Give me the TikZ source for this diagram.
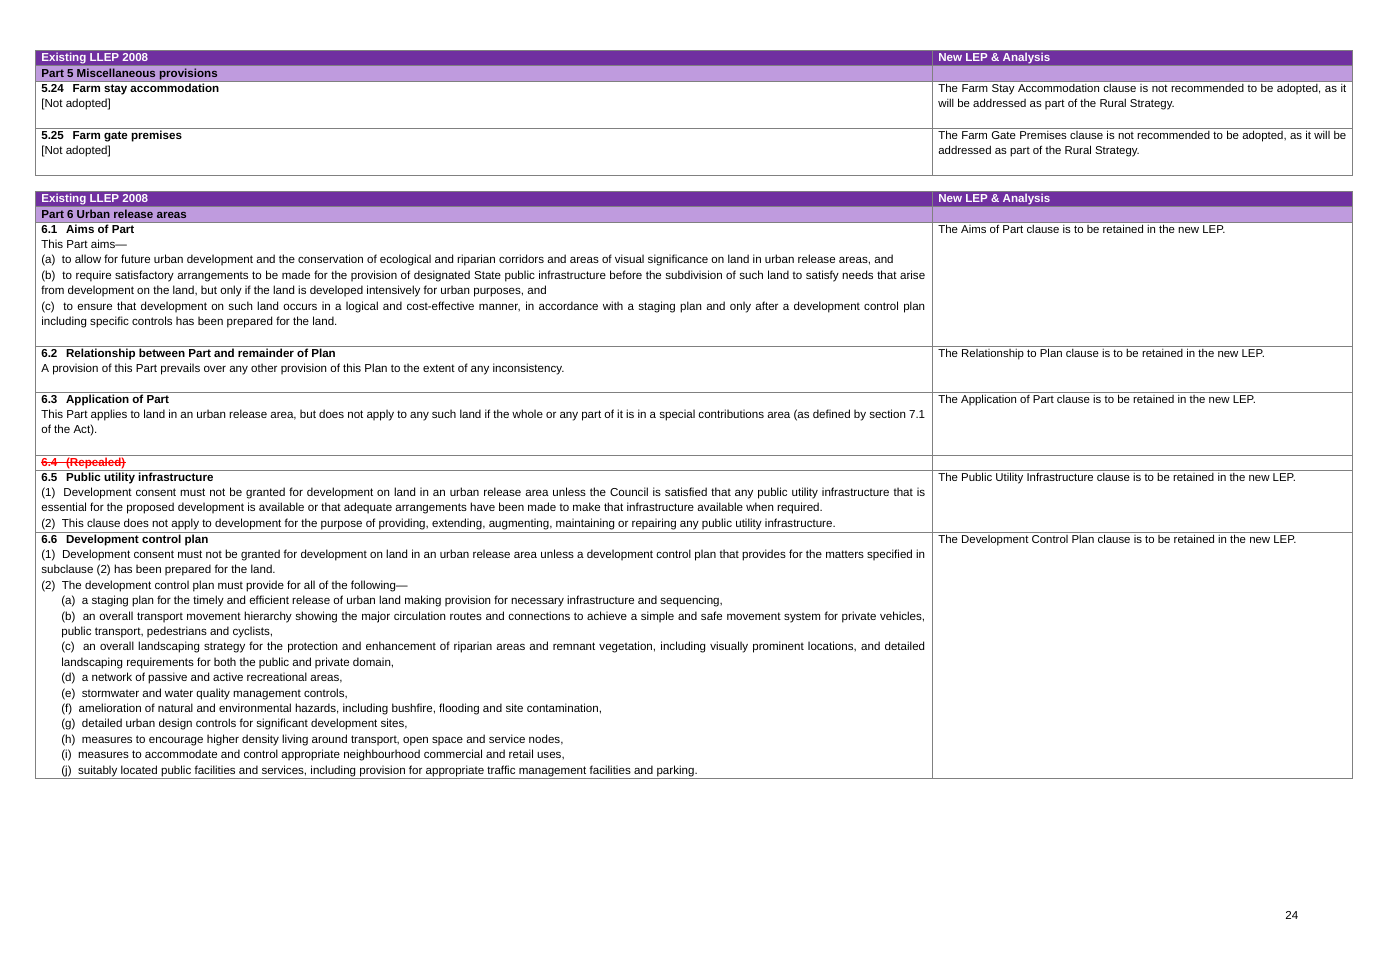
\documentclass[tikz,border=0pt]{standalone}
\usepackage{fontspec}
\setmainfont{Liberation Sans}
\definecolor{hdpurple}{HTML}{7030A0}
\definecolor{ltpurple}{HTML}{BF9BDE}
\definecolor{gridgray}{HTML}{808080}
\newcommand{\clause}[2]{\textbf{#1\hspace{0.75em}#2}}
\newcommand{\tablefont}{\fontsize{6.95}{9.24}\selectfont}
\newcommand{\notefont}{\fontsize{6.85}{9.24}\selectfont}
\begin{document}
\begin{tikzpicture}[x=0.6pt,y=-0.6pt,
  font=\tablefont,
  lcell/.style={anchor=base west,inner sep=0pt,text width=530.4pt,align=justify},
  rcell/.style={anchor=base west,inner sep=0pt,text width=244.8pt,align=justify,font=\notefont},
  hdtext/.style={anchor=base west,inner sep=0pt,text=white,font=\tablefont\bfseries},
  parttext/.style={anchor=base west,inner sep=0pt,font=\tablefont\bfseries},
  grid/.style={draw=gridgray,line width=0.6pt}]
\useasboundingbox (0,0) rectangle (1382,977);

% table 1: Part 5
\fill[hdpurple] (35,50) rectangle (1352,65);
\fill[ltpurple] (35,65) rectangle (1352,81);
\draw[grid] (35,50) rectangle (1352,175);
\draw[grid] (35,65) -- (1352,65) (35,81) -- (1352,81) (35,128) -- (1352,128);
\draw[grid] (932,50) -- (932,175);
\node[hdtext] (hdA) at (41,61) {Existing LLEP 2008};
\node[hdtext] (hdB) at (938,61) {New LEP \& Analysis};
\node[parttext] (part5) at (41,77) {Part 5 Miscellaneous provisions};
\node[lcell] (c524) at (41,92) {\clause{5.24}{Farm stay accommodation}\par [Not adopted]};
\node[rcell] (r524) at (938,92) {The Farm Stay Accommodation clause is not recommended to be adopted, as it\linebreak will be addressed as part of the Rural Strategy.};
\node[lcell] (c525) at (41,139) {\clause{5.25}{Farm gate premises}\par [Not adopted]};
\node[rcell] (r525) at (938,139) {The Farm Gate Premises clause is not recommended to be adopted, as it will be\linebreak addressed as part of the Rural Strategy.};

% table 2: Part 6
\fill[hdpurple] (35,191) rectangle (1352,206);
\fill[ltpurple] (35,206) rectangle (1352,222);
\draw[grid] (35,191) rectangle (1352,778);
\draw[grid] (35,206) -- (1352,206) (35,222) -- (1352,222) (35,346) -- (1352,346)
  (35,392) -- (1352,392) (35,455) -- (1352,455) (35,470) -- (1352,470) (35,532) -- (1352,532);
\draw[grid] (932,191) -- (932,778);
\node[hdtext] (hdC) at (41,202) {Existing LLEP 2008};
\node[hdtext] (hdD) at (938,202) {New LEP \& Analysis};
\node[parttext] (part6) at (41,218) {Part 6 Urban release areas};

\node[lcell] (c61) at (41,233) {\clause{6.1}{Aims of Part}\par
This Part aims\textemdash\par
(a)\ \ to allow for future urban development and the conservation of ecological and riparian corridors and areas of visual significance on land in urban release areas, and\par
(b)\ \ to require satisfactory arrangements to be made for the provision of designated State public infrastructure before the subdivision of such land to satisfy needs that arise\linebreak
from development on the land, but only if the land is developed intensively for urban purposes, and\par
(c)\ \ to ensure that development on such land occurs in a logical and cost-effective manner, in accordance with a staging plan and only after a development control plan\linebreak
including specific controls has been prepared for the land.};
\node[rcell] (r61) at (938,233) {The Aims of Part clause is to be retained in the new LEP.};

\node[lcell] (c62) at (41,357) {\clause{6.2}{Relationship between Part and remainder of Plan}\par
A provision of this Part prevails over any other provision of this Plan to the extent of any inconsistency.};
\node[rcell] (r62) at (938,357) {The Relationship to Plan clause is to be retained in the new LEP.};

\node[lcell] (c63) at (41,403) {\clause{6.3}{Application of Part}\par
This Part applies to land in an urban release area, but does not apply to any such land if the whole or any part of it is in a special contributions area (as defined by section 7.1\linebreak
of the Act).};
\node[rcell] (r63) at (938,403) {The Application of Part clause is to be retained in the new LEP.};

% repealed clause, struck through
\node[anchor=base west,inner sep=0pt,text=red,font=\tablefont\bfseries] (c64) at (41,466) {6.4\hspace{0.75em}(Repealed)};
\draw[red,line width=0.6pt] ([yshift=2.2pt]c64.base west) -- ([yshift=2.2pt]c64.base east);

\node[lcell] (c65) at (41,481) {\clause{6.5}{Public utility infrastructure}\par
(1)\ \ Development consent must not be granted for development on land in an urban release area unless the Council is satisfied that any public utility infrastructure that is\linebreak
essential for the proposed development is available or that adequate arrangements have been made to make that infrastructure available when required.\par
(2)\ \ This clause does not apply to development for the purpose of providing, extending, augmenting, maintaining or repairing any public utility infrastructure.};
\node[rcell] (r65) at (938,481) {The Public Utility Infrastructure clause is to be retained in the new LEP.};

\node[lcell] (c66) at (41,543) {\clause{6.6}{Development control plan}\par
(1)\ \ Development consent must not be granted for development on land in an urban release area unless a development control plan that provides for the matters specified in\linebreak
subclause (2) has been prepared for the land.\par
(2)\ \ The development control plan must provide for all of the following\textemdash\par
{\leftskip=12pt
(a)\ \ a staging plan for the timely and efficient release of urban land making provision for necessary infrastructure and sequencing,\par
(b)\ \ an overall transport movement hierarchy showing the major circulation routes and connections to achieve a simple and safe movement system for private vehicles,\linebreak
public transport, pedestrians and cyclists,\par
(c)\ \ an overall landscaping strategy for the protection and enhancement of riparian areas and remnant vegetation, including visually prominent locations, and detailed\linebreak
landscaping requirements for both the public and private domain,\par
(d)\ \ a network of passive and active recreational areas,\par
(e)\ \ stormwater and water quality management controls,\par
(f)\ \ amelioration of natural and environmental hazards, including bushfire, flooding and site contamination,\par
(g)\ \ detailed urban design controls for significant development sites,\par
(h)\ \ measures to encourage higher density living around transport, open space and service nodes,\par
(i)\ \ measures to accommodate and control appropriate neighbourhood commercial and retail uses,\par
(j)\ \ suitably located public facilities and services, including provision for appropriate traffic management facilities and parking.\par}};
\node[rcell] (r66) at (938,543) {The Development Control Plan clause is to be retained in the new LEP.};

% page number
\node[anchor=base west,inner sep=0pt] (pgno) at (1285,919) {24};
\end{tikzpicture}
\end{document}
